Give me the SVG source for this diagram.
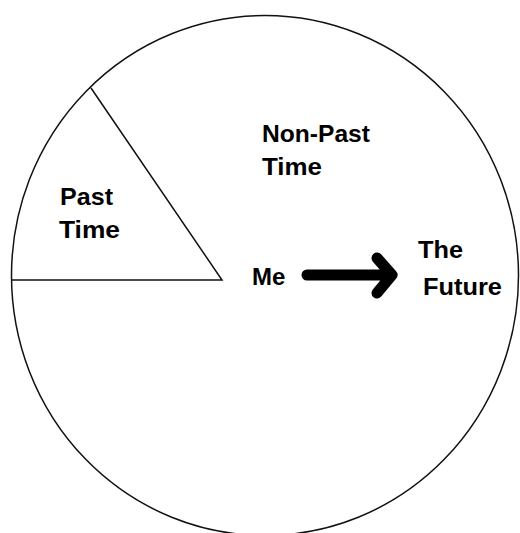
<svg xmlns="http://www.w3.org/2000/svg" width="520" height="533" viewBox="0 0 520 533">
<style>
.ln{fill:none;stroke:#111;stroke-width:1.5}
.lbl{font-family:"Liberation Sans",Arial,sans-serif;font-weight:bold;font-size:24px;fill:#000}
.arr{fill:none;stroke:#000;stroke-width:11;stroke-linecap:round;stroke-linejoin:round}
</style>
<rect width="520" height="533" fill="#fff"/>
<g id="circle">
<ellipse class="ln" cx="265" cy="275.5" rx="253.5" ry="260"/>
</g>
<g id="past-time">
<path class="ln" d="M11 280 H222 L91 88"/>
<text class="lbl" x="60" y="205" textLength="53" lengthAdjust="spacingAndGlyphs">Past</text>
<text class="lbl" x="59" y="238" textLength="61" lengthAdjust="spacingAndGlyphs">Time</text>
</g>
<g id="non-past-time">
<text class="lbl" x="262" y="142" textLength="108" lengthAdjust="spacingAndGlyphs">Non-Past</text>
<text class="lbl" x="262" y="175" textLength="60" lengthAdjust="spacingAndGlyphs">Time</text>
</g>
<g id="me">
<text class="lbl" x="252" y="285">Me</text>
</g>
<g id="the-future">
<text class="lbl" x="418" y="258" textLength="45" lengthAdjust="spacingAndGlyphs">The</text>
<text class="lbl" x="423" y="295" textLength="79" lengthAdjust="spacingAndGlyphs">Future</text>
</g>
<g id="connectors">
<path class="arr" d="M307 275 H390 M377 258 L392 275 L377 293"/>
</g>
</svg>
